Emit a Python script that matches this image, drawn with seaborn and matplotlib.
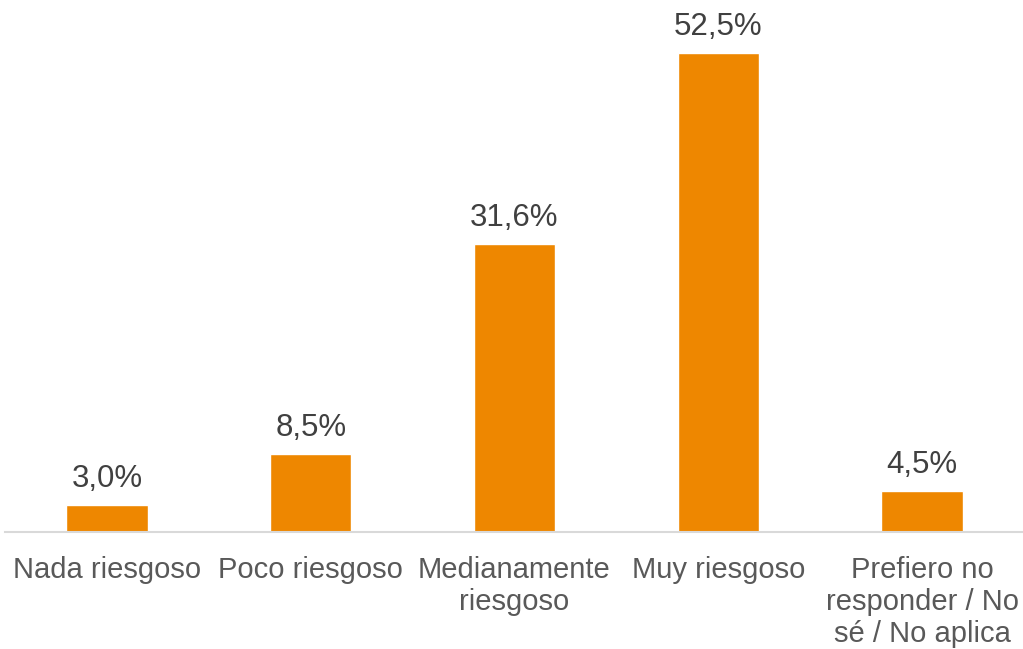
import pandas as pd
import matplotlib.pyplot as plt
import seaborn as sns

categorias = ["Nada riesgoso", "Poco riesgoso", "Medianamente\nriesgoso",
              "Muy riesgoso", "Prefiero no\nresponder / No\nsé / No aplica"]
porcentajes = [3.0, 8.5, 31.6, 52.5, 4.5]

df = pd.DataFrame({"Categoria": categorias, "Porcentaje": porcentajes})

sns.set_theme(style="white")
plt.rcParams["font.family"] = ["Liberation Sans", "DejaVu Sans"]

fig = plt.figure(figsize=(10.23, 6.49), dpi=100)
ax = fig.add_axes([5 / 1023, (649 - 532) / 649, 1019 / 1023, 532 / 649])

sns.barplot(data=df, x="Categoria", y="Porcentaje", color="#EE8700",
            width=0.4, saturation=1, ax=ax)

for i, v in enumerate(porcentajes):
    ax.annotate(f"{v:.1f}%".replace(".", ","), (i, v), xytext=(0, 8),
                textcoords="offset points", ha="center", va="bottom",
                fontsize=22.5, color="#404040")

ax.set_ylim(0, 58.3)
ax.set_xlim(-0.5, 4.5)
ax.set_xlabel("")
ax.set_ylabel("")
ax.set_yticks([])
for s in ["top", "right", "left"]:
    ax.spines[s].set_visible(False)
ax.spines["bottom"].set_color("#D9D9D9")
ax.spines["bottom"].set_linewidth(1.5)
ax.tick_params(axis="x", length=0, pad=17, labelsize=21, colors="#595959")
for lbl in ax.get_xticklabels():
    lbl.set_multialignment("center")
    lbl.set_linespacing(1.2)
ax.set_facecolor("white")

fig.savefig("out.png", dpi=100, facecolor="white")
